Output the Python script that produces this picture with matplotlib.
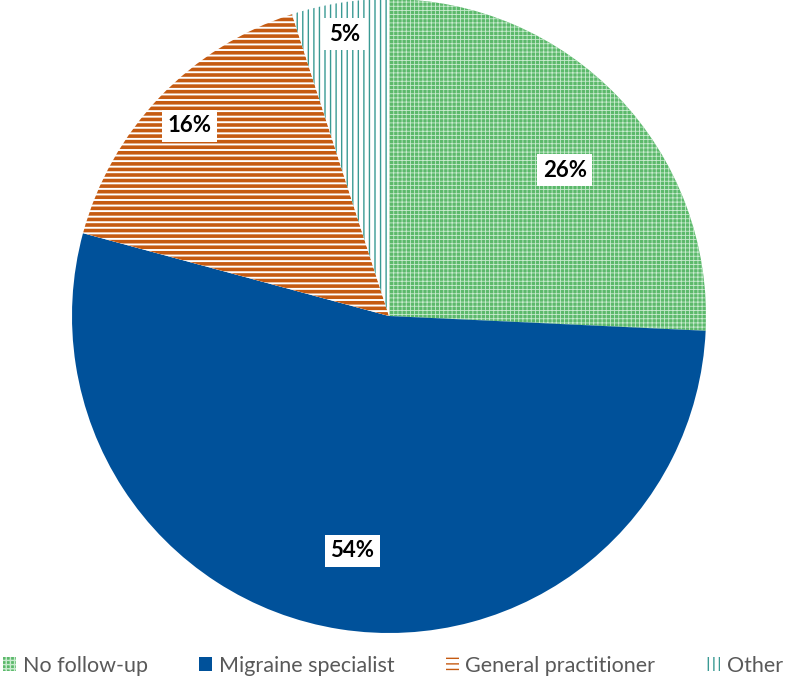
import numpy as np
import matplotlib.pyplot as plt
from matplotlib.patches import Patch

categories = ["No follow-up", "Migraine specialist", "General practitioner", "Other"]
shares = [26, 54, 16, 5]

face_colors = ["#5cb96b", "#00519a", "white", "white"]
hatch_colors = ["#c9ebcf", "#00519a", "#c55a11", "#3a9a94"]
hatches = ["++++", "", "---", "|||"]
hatch_widths = [0.6, 1.0, 2.6, 1.0]
# label placement: fraction of radius and angle nudge (deg) from the slice middle
label_r = [0.72, 0.75, 0.87, 0.90]
label_nudge = [-4, 0, 0, 0]

plt.rcParams["font.family"] = ["Lato", "DejaVu Sans"]

fig = plt.figure(figsize=(7.86, 6.83), dpi=100)
ax = fig.add_axes([72 / 786, 50 / 683, 634 / 786, 634 / 683])

wedges, _ = ax.pie(shares, startangle=90, counterclock=False,
                   wedgeprops=dict(linewidth=0))

for w, fc, hc, h, hw in zip(wedges, face_colors, hatch_colors, hatches, hatch_widths):
    w.set_facecolor(fc)
    w.set_edgecolor(hc)
    w.set_linewidth(0)
    if h:
        w.set_hatch(h)
        if hasattr(w, "set_hatch_linewidth"):
            w.set_hatch_linewidth(hw)

for w, v, r, d in zip(wedges, shares, label_r, label_nudge):
    ang = np.deg2rad((w.theta1 + w.theta2) / 2 + d)
    ax.text(r * np.cos(ang), r * np.sin(ang), "%d%%" % v,
            ha="center", va="center", fontsize=16, fontweight="bold",
            color="black",
            bbox=dict(facecolor="white", edgecolor="none", pad=4))

ax.set_xlim(-1, 1)
ax.set_ylim(-1, 1)
ax.set_aspect("equal")
ax.axis("off")

handles = []
for fc, hc, h in zip(face_colors, hatch_colors, hatches):
    handles.append(Patch(facecolor=fc, edgecolor=hc, hatch=h, linewidth=0))
fig.legend(handles, categories, loc="lower center", ncol=4, frameon=False,
           fontsize=15.5, labelcolor="#595959", bbox_to_anchor=(0.5, -0.018),
           handlelength=0.6, handleheight=0.6, handletextpad=0.3,
           columnspacing=2.4)

fig.savefig("out.png", dpi=100)
